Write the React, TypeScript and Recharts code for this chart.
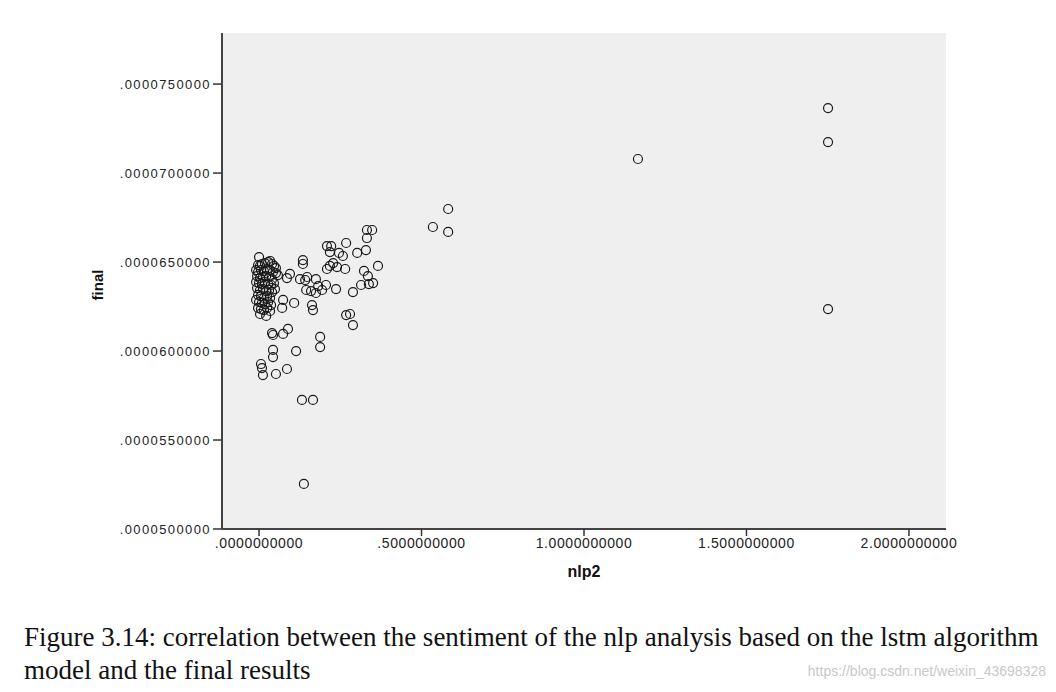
import { ScatterChart, Scatter, XAxis, YAxis, CartesianGrid } from "recharts";

// nlp2 (x) and final (y), paired by index
const nlp2 = [
  -0.003, 0.003, 0.009, 0.018, 0.028, 0.034, 0.040, 0.046, 0.052,
  -0.009, -0.003, 0.006, 0.015, 0.025, 0.034, 0.043, 0.052, 0.058,
  -0.006, 0.003, 0.012, 0.022, 0.031, 0.040,
  -0.009, 0.000, 0.009, 0.018, 0.028, 0.037, 0.046,
  -0.006, 0.003, 0.012, 0.022, 0.031, 0.040, 0.049,
  -0.003, 0.006, 0.015, 0.025, 0.034,
  -0.009, 0.000, 0.009, 0.018, 0.028, 0.037,
  -0.003, 0.006, 0.015, 0.025, 0.034, 0.003, 0.022,
  0.000, 0.095, 0.086, 0.135, 0.135, 0.175, 0.142, 0.126, 0.148,
  0.209, 0.222, 0.268, 0.218, 0.246, 0.258, 0.332, 0.348, 0.332,
  0.302, 0.329, 0.366, 0.323, 0.335, 0.314, 0.338, 0.351,
  0.265, 0.240, 0.218, 0.209, 0.228, 0.182, 0.206, 0.237, 0.194,
  0.145, 0.175, 0.160, 0.289, 0.108, 0.074, 0.071, 0.163, 0.166,
  0.268, 0.280, 0.289, 0.040, 0.043, 0.074, 0.089, 0.188, 0.188,
  0.043, 0.043, 0.114, 0.006, 0.009, 0.012, 0.052, 0.086,
  0.132, 0.166, 0.138, 0.535, 0.582, 0.582, 1.166, 1.751, 1.751, 1.751,
];

const finalVals = [
  6.483e-5, 6.478e-5, 6.489e-5, 6.494e-5, 6.5e-5, 6.506e-5, 6.489e-5, 6.478e-5, 6.466e-5,
  6.455e-5, 6.444e-5, 6.455e-5, 6.449e-5, 6.461e-5, 6.455e-5, 6.444e-5, 6.438e-5, 6.427e-5,
  6.421e-5, 6.41e-5, 6.416e-5, 6.421e-5, 6.416e-5, 6.404e-5,
  6.388e-5, 6.382e-5, 6.376e-5, 6.388e-5, 6.376e-5, 6.371e-5, 6.382e-5,
  6.354e-5, 6.343e-5, 6.348e-5, 6.337e-5, 6.343e-5, 6.331e-5, 6.348e-5,
  6.315e-5, 6.309e-5, 6.298e-5, 6.309e-5, 6.298e-5,
  6.287e-5, 6.275e-5, 6.27e-5, 6.264e-5, 6.275e-5, 6.258e-5,
  6.242e-5, 6.236e-5, 6.23e-5, 6.242e-5, 6.225e-5, 6.208e-5, 6.197e-5,
  6.528e-5, 6.433e-5, 6.41e-5, 6.511e-5, 6.489e-5, 6.404e-5, 6.399e-5, 6.404e-5, 6.416e-5,
  6.59e-5, 6.59e-5, 6.607e-5, 6.556e-5, 6.551e-5, 6.534e-5, 6.68e-5, 6.68e-5, 6.635e-5,
  6.551e-5, 6.567e-5, 6.478e-5, 6.45e-5, 6.421e-5, 6.371e-5, 6.376e-5, 6.382e-5,
  6.461e-5, 6.472e-5, 6.478e-5, 6.461e-5, 6.494e-5, 6.365e-5, 6.371e-5, 6.348e-5, 6.343e-5,
  6.343e-5, 6.326e-5, 6.337e-5, 6.331e-5, 6.27e-5, 6.287e-5, 6.242e-5, 6.258e-5, 6.23e-5,
  6.202e-5, 6.208e-5, 6.146e-5, 6.101e-5, 6.09e-5, 6.096e-5, 6.124e-5, 6.079e-5, 6.022e-5,
  6.006e-5, 5.966e-5, 6.0e-5, 5.927e-5, 5.904e-5, 5.865e-5, 5.871e-5, 5.899e-5,
  5.725e-5, 5.725e-5, 5.253e-5, 6.697e-5, 6.798e-5, 6.669e-5, 7.079e-5, 7.365e-5, 7.174e-5, 6.236e-5,
];

const xTicks = [0, 0.5, 1, 1.5, 2];
const yTicks = [5e-5, 5.5e-5, 6e-5, 6.5e-5, 7e-5, 7.5e-5];

const data = nlp2.map((x, i) => ({ nlp2: x, final: finalVals[i] }));

const fmt = (v: number) => {
  const s = v.toFixed(10);
  return s.startsWith("0.") ? s.slice(1) : s;
};

const Ring = (p: any) => (
  <circle cx={p.cx} cy={p.cy} r={4.5} fill="none" stroke="#1a1a1a" strokeWidth={1.2} />
);

const sans = "Liberation Sans, Arial, sans-serif";

export default function App() {
  return (
    <div style={{ position: "absolute", left: 0, top: 0, width: 1056, height: 692, background: "#fff", overflow: "hidden" }}>
      <ScatterChart width={1056} height={600} margin={{ top: 33, right: 110, bottom: 41, left: 0 }}>
        <CartesianGrid fill="#efefef" horizontal={false} vertical={false} />
        <XAxis
          type="number"
          dataKey="nlp2"
          domain={[-0.114, 2.114]}
          allowDataOverflow
          ticks={xTicks}
          tickFormatter={fmt}
          tick={{ fontSize: 14, fill: "#222", fontFamily: sans, letterSpacing: 0.6 }}
          tickSize={7}
          height={30}
          axisLine={{ stroke: "#444", strokeWidth: 2 }}
          tickLine={{ stroke: "#333", strokeWidth: 1.5 }}
        />
        <XAxis xAxisId="top" orientation="top" type="number" dataKey="nlp2" domain={[-0.114, 2.114]} height={0} tick={false} tickLine={false} axisLine={{ stroke: "#666", strokeWidth: 2 }} />
        <YAxis
          type="number"
          dataKey="final"
          domain={[5e-5, 7.787e-5]}
          allowDataOverflow
          ticks={yTicks}
          tickFormatter={fmt}
          tick={{ fontSize: 13, fill: "#222", fontFamily: sans, letterSpacing: 1.4 }}
          tickSize={9}
          width={222}
          axisLine={{ stroke: "#444", strokeWidth: 2 }}
          tickLine={{ stroke: "#333", strokeWidth: 1.5 }}
        />
        <YAxis yAxisId="right" orientation="right" type="number" dataKey="final" domain={[5e-5, 7.787e-5]} width={0} tick={false} tickLine={false} axisLine={{ stroke: "#666", strokeWidth: 2 }} />
        <Scatter data={data} shape={Ring} isAnimationActive={false} />
      </ScatterChart>
      <div style={{ position: "absolute", left: 97, top: 285, transform: "translate(-50%, -50%) rotate(-90deg)", fontFamily: sans, fontWeight: "bold", fontSize: 15, color: "#111" }}>final</div>
      <div style={{ position: "absolute", left: 584, top: 572, transform: "translate(-50%, -50%)", fontFamily: sans, fontWeight: "bold", fontSize: 16, color: "#111" }}>nlp2</div>
      <div style={{ position: "absolute", left: 24, top: 621, fontFamily: "Liberation Serif, Times New Roman, serif", fontSize: 27, lineHeight: "33px", color: "#111", whiteSpace: "nowrap" }}>
        Figure 3.14: correlation between the sentiment of the nlp analysis based on the lstm algorithm
        <br />
        model and the final results
      </div>
      <div style={{ position: "absolute", right: 10, top: 663, fontFamily: sans, fontSize: 14, color: "#c8c8c8" }}>https://blog.csdn.net/weixin_43698328</div>
    </div>
  );
}
